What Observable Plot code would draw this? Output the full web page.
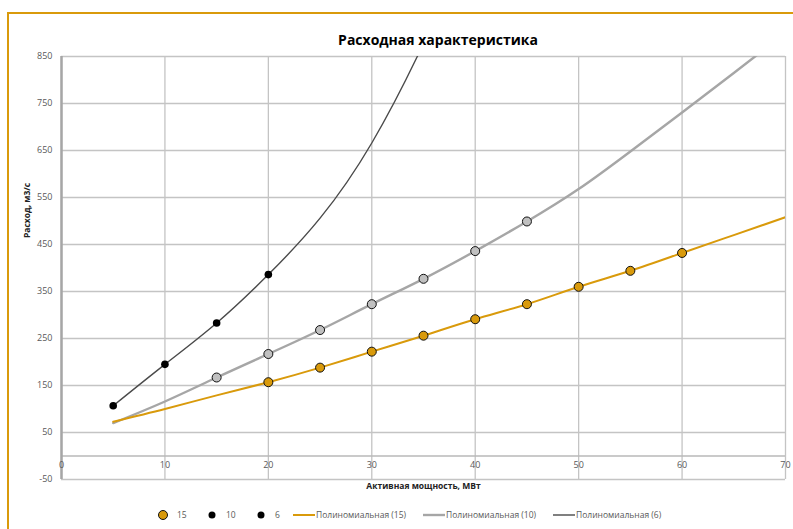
<!DOCTYPE html>
<html>
<head>
<meta charset="utf-8">
<script src="https://cdn.jsdelivr.net/npm/d3@7"></script>
<script src="https://cdn.jsdelivr.net/npm/@observablehq/plot@0.6"></script>
<style>
  html, body { margin: 0; padding: 0; background: #fff; }
  #wrap { position: relative; width: 793px; height: 529px; overflow: hidden; font-family: "Open Sans", sans-serif; }
  #frame { position: absolute; left: 7px; top: 12px; width: 800px; height: 530px; border-top: 2px solid #D99A0B; border-left: 2px solid #D99A0B; box-sizing: border-box; }
  #title { position: absolute; left: 0; width: 876px; top: 30px; text-align: center; font-weight: 700; font-size: 14px; color: #000; }
  #chart { position: absolute; left: 0; top: 0; }
  .leg { position: absolute; top: 508px; font-size: 8.5px; color: #595959; line-height: 14px; white-space: nowrap; }
</style>
</head>
<body>
<div id="wrap">
  <div id="frame"></div>
  <div id="chart"></div>
  <div id="title">Расходная характеристика</div>
  <div id="legend"></div>
</div>
<script>
// ---- data ----
const xTicks = [0, 10, 20, 30, 40, 50, 60, 70];
const yTicks = [-50, 50, 150, 250, 350, 450, 550, 650, 750, 850];

// measured points
const x15 = [20, 25, 30, 35, 40, 45, 50, 55, 60];
const y15 = [157, 188, 222, 256, 291, 323, 360, 394, 432];
const x10 = [15, 20, 25, 30, 35, 40, 45];
const y10 = [167, 217, 268, 323, 377, 436, 499];
const x6 = [5, 10, 15, 20];
const y6 = [107, 195, 283, 386];

// polynomial trend lines
const tx15 = [5, 10, 15, 20, 25, 30, 35, 40, 45, 50, 55, 60, 65, 70];
const ty15 = [73, 100, 129, 157, 188, 222, 256, 291, 323, 360, 394, 432, 470, 508];
const tx10 = [5, 10, 15, 20, 25, 30, 35, 40, 45, 50, 55, 60, 65, 70];
const ty10 = [70, 116, 167, 217, 268, 323, 377, 436, 499, 568, 648, 731, 815, 900];
const tx6 = [5, 10, 15, 20, 25, 30, 34.4, 36];
const ty6 = [107, 195, 283, 386, 506, 666, 850, 930];

const seriesNames = ["15", "10", "6"];
const trendNames = ["Полиномиальная (15)", "Полиномиальная (10)", "Полиномиальная (6)"];
const xLabel = "Активная мощность, МВт";
const yLabel = "Расход, м3/с";

const ORANGE = "#D99A0B";
const zip = (xs, ys) => xs.map((x, i) => ({x, y: ys[i]}));

const chart = Plot.plot({
  width: 793,
  height: 529,
  marginLeft: 61,
  marginRight: 8,
  marginTop: 56,
  marginBottom: 50,
  style: {fontFamily: "Open Sans, sans-serif", background: "transparent"},
  x: {domain: [0, 70]},
  y: {domain: [-50, 850]},
  marks: [
    Plot.gridX(xTicks, {stroke: "#c4c4c4", strokeOpacity: 1, strokeWidth: 1.3}),
    Plot.gridY(yTicks, {stroke: "#c4c4c4", strokeOpacity: 1, strokeWidth: 1.3}),
    Plot.ruleY([0], {stroke: "#b8b8b8", strokeWidth: 1.3}),
    Plot.ruleX([0], {stroke: "#a6a6a6", strokeWidth: 2.5}),
    Plot.axisY(yTicks, {tickSize: 0, tickPadding: 9, fontSize: 9, color: "#595959", label: null, tickFormat: d => String(d)}),
    Plot.axisX(xTicks, {tickSize: 0, tickPadding: 0, dy: -18, fontSize: 9, color: "#595959", label: null, tickFormat: d => String(d)}),
    Plot.line(zip(tx10, ty10), {x: "x", y: "y", stroke: "#a6a6a6", strokeWidth: 2.4, curve: "natural", clip: true}),
    Plot.line(zip(tx15, ty15), {x: "x", y: "y", stroke: ORANGE, strokeWidth: 2, curve: "natural", clip: true}),
    Plot.line(zip(tx6, ty6), {x: "x", y: "y", stroke: "#4a4a4a", strokeWidth: 1.4, curve: "natural", clip: true}),
    Plot.dot(zip(x10, y10), {x: "x", y: "y", r: 4.5, fill: "#c0c0c0", stroke: "#111", strokeWidth: 1}),
    Plot.dot(zip(x15, y15), {x: "x", y: "y", r: 4.5, fill: ORANGE, stroke: "#111", strokeWidth: 1}),
    Plot.dot(zip(x6, y6), {x: "x", y: "y", r: 3.8, fill: "#000", stroke: "none"}),
    Plot.text([xLabel], {frameAnchor: "bottom", dy: 9, fontSize: 8.5, fontWeight: "bold", fill: "#222"}),
    Plot.text([yLabel], {frameAnchor: "left", rotate: -90, dx: -34, dy: -30, fontSize: 8.5, fontWeight: "bold", fill: "#222"})
  ]
});
document.getElementById("chart").appendChild(chart);

// legend (HTML)
const legend = document.getElementById("legend");
const legItems = [
  {left: 157, type: "dot", fill: ORANGE, stroke: "#111", r: 4.5, text: seriesNames[0]},
  {left: 206, type: "dot", fill: "#000", stroke: "none", r: 3.5, text: seriesNames[1]},
  {left: 255, type: "dot", fill: "#000", stroke: "none", r: 3.5, text: seriesNames[2]},
  {left: 293, type: "line", stroke: ORANGE, w: 2, text: trendNames[0]},
  {left: 423, type: "line", stroke: "#a6a6a6", w: 2.4, text: trendNames[1]},
  {left: 553, type: "line", stroke: "#4a4a4a", w: 1.4, text: trendNames[2]}
];
legItems.forEach(it => {
  const d = document.createElement("div");
  d.className = "leg";
  d.style.left = it.left + "px";
  let sym;
  if (it.type === "dot") {
    sym = `<svg width="12" height="14" style="vertical-align:top"><circle cx="6" cy="7" r="${it.r}" fill="${it.fill}" stroke="${it.stroke}" stroke-width="1"/></svg><span style="margin-left:8px">${it.text}</span>`;
  } else {
    sym = `<svg width="22" height="14" style="vertical-align:top"><line x1="0" x2="22" y1="7" y2="7" stroke="${it.stroke}" stroke-width="${it.w}"/></svg><span style="margin-left:1px">${it.text}</span>`;
  }
  d.innerHTML = sym;
  legend.appendChild(d);
});
</script>
</body>
</html>
